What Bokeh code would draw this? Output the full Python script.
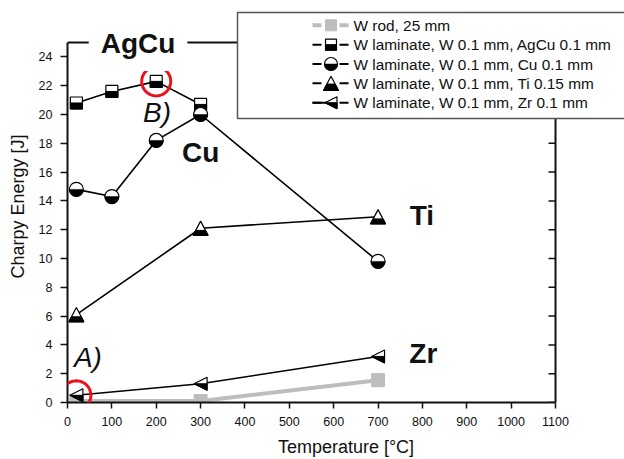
import math
from bokeh.plotting import figure
from bokeh.models import Range1d, FixedTicker, Label, PolyAnnotation
from bokeh.core.properties import value
from bokeh.embed import file_html
from bokeh.resources import INLINE

# ---------------- data ----------------
temp_rod = [20, 300, 700]
energy_rod = [0.1, 0.1, 1.55]
temp_agcu = [20, 100, 200, 300]
energy_agcu = [20.8, 21.6, 22.3, 20.7]
temp_cu = [20, 100, 200, 300, 700]
energy_cu = [14.8, 14.3, 18.2, 20.0, 9.8]
temp_ti = [20, 300, 700]
energy_ti = [6.1, 12.1, 12.9]
temp_zr = [20, 300, 700]
energy_zr = [0.5, 1.3, 3.2]

legend_labels = [
    "W rod, 25 mm",
    "W laminate, W 0.1 mm, AgCu 0.1 mm",
    "W laminate, W 0.1 mm, Cu 0.1 mm",
    "W laminate, W 0.1 mm, Ti 0.15 mm",
    "W laminate, W 0.1 mm, Zr 0.1 mm",
]
x_ticks = list(range(0, 1101, 100))
y_ticks = list(range(0, 25, 2))
X_MAX = 1100
Y_MAX = 25

# ---------------- layout (pixels) ----------------
AXIS_W_PX = 488.0          # pixel length of 0..1100
AXIS_H_PX = 360.0          # pixel length of 0..25
KX = AXIS_W_PX / X_MAX
KY = AXIS_H_PX / Y_MAX
FRAME_W = 557
FRAME_H = 392

FONT = "Liberation Sans"
GRAY = "#bdbdbd"
INK = "#111111"

p = figure(
    frame_width=FRAME_W, frame_height=FRAME_H,
    x_range=Range1d(0, FRAME_W / KX), y_range=Range1d(0, FRAME_H / KY),
    min_border_left=67, min_border_right=0, min_border_top=10, min_border_bottom=57,
    output_backend="svg", toolbar_location=None, tools="",
)
p.extra_x_ranges = {"px": Range1d(0, FRAME_W)}
p.extra_y_ranges = {"px": Range1d(0, FRAME_H)}
p.xgrid.visible = False
p.ygrid.visible = False
p.outline_line_color = None
p.background_fill_color = "white"
p.border_fill_color = "white"

for ax, ticks, bnd in ((p.xaxis, x_ticks, (0, X_MAX)), (p.yaxis, y_ticks, (0, Y_MAX))):
    ax.ticker = FixedTicker(ticks=ticks)
    ax.bounds = bnd
    ax.axis_line_width = 2
    ax.axis_line_color = INK
    ax.major_tick_line_color = INK
    ax.major_tick_line_width = 1.5
    ax.major_tick_in = 0
    ax.minor_tick_line_color = None
    ax.major_label_text_font = FONT
    ax.major_label_text_font_size = "12.5px"
    ax.major_label_text_color = INK
    ax.axis_label_text_font = FONT
    ax.axis_label_text_font_size = "18px"
    ax.axis_label_text_font_style = "normal"
    ax.axis_label_text_color = INK

p.xaxis.axis_label = "Temperature [°C]"
p.xaxis.major_tick_out = 6
p.xaxis.major_label_standoff = 8
p.xaxis.axis_label_standoff = 8
p.yaxis.axis_label = "Charpy Energy [J]"
p.yaxis.major_tick_out = 7
p.yaxis.major_label_standoff = 8
p.yaxis.axis_label_standoff = 8

# frame: top and right lines, right ticks (inward)
p.segment(x0=[0], y0=[Y_MAX], x1=[X_MAX], y1=[Y_MAX], line_color=INK, line_width=2)
p.segment(x0=[X_MAX], y0=[0], x1=[X_MAX], y1=[Y_MAX], line_color=INK, line_width=2)
p.segment(x0=[X_MAX] * len(y_ticks), y0=y_ticks,
          x1=[X_MAX - 7 / KX] * len(y_ticks), y1=y_ticks,
          line_color=INK, line_width=1.5)


# ---------------- marker helpers ----------------
def polys(xs, ys, shape, sx, sy):
    pxs = [[x + dx / sx for dx, _ in shape] for x in xs]
    pys = [[y + dy / sy for _, dy in shape] for y in ys]
    return pxs, pys


def sq_full(s):
    h = s / 2
    return [(-h, -h), (h, -h), (h, h), (-h, h)]


def sq_bottom(s):
    h = s / 2
    return [(-h, -h), (h, -h), (h, 0), (-h, 0)]


def tri_full(s):
    w, H = s / 2, s * 0.95
    return [(-w, -H / 2), (w, -H / 2), (0, H / 2)]


def tri_bottom(s, f=0.4):
    w, H = s / 2, s * 0.95
    yc = -H / 2 + f * H
    return [(-w, -H / 2), (w, -H / 2), (w * (1 - f), yc), (-w * (1 - f), yc)]


def tl_full(s):
    w = s / 2
    return [(-w, 0), (w, w), (w, -w)]


def tl_bottom(s):
    w = s / 2
    return [(-w, 0), (w, 0), (w, -w)]


def half_marker(xs, ys, full, bottom, sx, sy, **kw):
    fx, fy = polys(xs, ys, full, sx, sy)
    p.patches(fx, fy, fill_color="white", line_color="black", line_width=1.2, **kw)
    bx, by = polys(xs, ys, bottom, sx, sy)
    p.patches(bx, by, fill_color="black", line_color="black", line_width=1, **kw)


def half_circle(xs, ys, d, **kw):
    p.scatter(xs, ys, marker="circle", size=d, fill_color="white",
              line_color="black", line_width=1.2, **kw)
    p.wedge(xs, ys, radius=d / 2, radius_units="screen",
            start_angle=math.pi, end_angle=2 * math.pi,
            fill_color="black", line_color="black", line_width=0.5, **kw)


# ---------------- series ----------------
p.line(temp_rod, energy_rod, line_color=GRAY, line_width=4)
p.line(temp_agcu, energy_agcu, line_color="black", line_width=1.6)
p.line(temp_cu, energy_cu, line_color="black", line_width=1.6)
p.line(temp_ti, energy_ti, line_color="black", line_width=1.6)
p.line(temp_zr, energy_zr, line_color="black", line_width=1.6)

p.scatter(temp_rod, energy_rod, marker="square", size=13, fill_color=GRAY, line_color=GRAY)
half_marker(temp_agcu, energy_agcu, sq_full(12), sq_bottom(12), KX, KY)
half_circle(temp_cu, energy_cu, 14)
half_marker(temp_ti, energy_ti, tri_full(15), tri_bottom(15, 0.35), KX, KY)
half_marker(temp_zr, energy_zr, tl_full(13), tl_bottom(13), KX, KY)

# red highlight circles (annotations, so they are not clipped by the frame)
R_PX = 14.5
angles = [2 * math.pi * i / 60 for i in range(60)]
for cx, cy in ((temp_agcu[2], energy_agcu[2]), (temp_zr[0], energy_zr[0])):
    p.add_layout(PolyAnnotation(
        xs=[cx + R_PX * math.cos(a) / KX for a in angles],
        ys=[cy + R_PX * math.sin(a) / KY for a in angles],
        fill_color=None, fill_alpha=0, line_color="#e8141b", line_alpha=1.0,
        line_width=3))

# ---------------- legend (frame pixel coordinates) ----------------
LEG_LEFT, LEG_TOP, LEG_BOTTOM = 170, 390, 284
ROW0, ROW_STEP = 377.2, 19.35
GX, DL0, DL1, DR0, DR1, TX = 263.5, 245, 254, 272, 281, 286
rows = [ROW0 - i * ROW_STEP for i in range(len(legend_labels))]
kw = dict(x_range_name="px", y_range_name="px")

p.quad(left=[LEG_LEFT], right=[FRAME_W + 10], top=[LEG_TOP], bottom=[LEG_BOTTOM],
       fill_color="white", line_color="#555555", line_width=1.5, **kw)
colors = [GRAY, "black", "black", "black", "black"]
widths = [4, 2, 2, 2, 2]
for y, c, w in zip(rows, colors, widths):
    p.segment(x0=[DL0, DR0], y0=[y, y], x1=[DL1, DR1], y1=[y, y], line_color=c, line_width=w, **kw)
# Zr legend line runs into the triangle
p.segment(x0=[DL0], y0=[rows[4]], x1=[GX], y1=[rows[4]], line_color="black", line_width=2, **kw)

p.scatter([GX], [rows[0]], marker="square", size=11, fill_color=GRAY, line_color=GRAY, **kw)
half_marker([GX], [rows[1]], sq_full(11), sq_bottom(11), 1, 1, **kw)
half_circle([GX], [rows[2]], 13, **kw)
half_marker([GX], [rows[3]], tri_full(15), tri_bottom(15, 0.45), 1, 1, **kw)
half_marker([GX], [rows[4]], tl_full(12), tl_bottom(12), 1, 1, **kw)

p.text(x=[TX] * len(rows), y=rows, text=legend_labels, text_font=value(FONT),
       text_font_size="15.4px", text_baseline="middle", text_align="left",
       text_color=INK, **kw)

# ---------------- annotations ----------------
def lab(x, y, t, style="bold", bg=None, pad=0):
    p.add_layout(Label(x=x, y=y, text=t, text_font=FONT, text_font_size="28px",
                       text_font_style=style, text_align="center", text_baseline="middle",
                       text_color=INK, background_fill_color=bg, padding=pad))


lab(159, 24.93, "AgCu", bg="white", pad=12)
lab(300, 17.36, "Cu")
lab(799, 12.99, "Ti")
lab(802, 3.4, "Zr")
lab(202, 20.14, "B)", style="italic")
lab(46, 3.12, "A)", style="italic")

open("out.html", "w").write(file_html(p, INLINE))
